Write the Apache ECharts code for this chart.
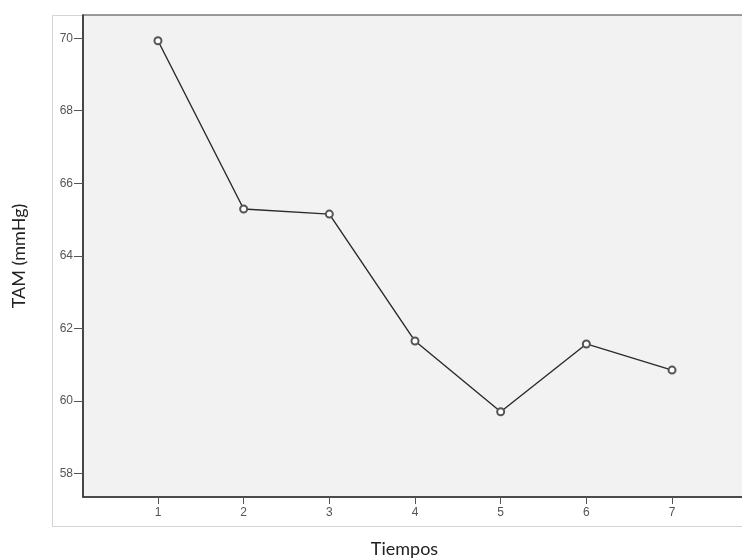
<!DOCTYPE html>
<html>
<head>
<meta charset="utf-8">
<script src="https://cdn.jsdelivr.net/npm/echarts@6/dist/echarts.min.js"></script>
<style>html,body{margin:0;padding:0;background:#fff}#c{width:742px;height:559px}</style>
</head>
<body>
<div id="c"></div>
<script>
var tiempos = [1, 2, 3, 4, 5, 6, 7];
var tam = [69.93, 65.29, 65.15, 61.65, 59.70, 61.57, 60.85];
var yTicks = [58, 60, 62, 64, 66, 68, 70];
var xTicks = [1, 2, 3, 4, 5, 6, 7];

var chart = echarts.init(document.getElementById('c'), null, {renderer: 'canvas'});
chart.setOption({
  animation: false,
  graphic: [{
    type: 'rect', z: -10, silent: true,
    shape: {x: 52.5, y: 15.5, width: 720, height: 511},
    style: {fill: 'none', stroke: '#d4d4d4', lineWidth: 1}
  }],
  grid: {left: 83, top: 15, right: -2, bottom: 62, show: true, outerBoundsMode: 'none', containLabel: false,
         backgroundColor: '#f2f2f2', borderColor: '#3a3a3a', borderWidth: 1.2},
  xAxis: {
    type: 'value', min: 0.125, max: 7.84,
    name: 'Tiempos', nameLocation: 'middle', nameGap: 43,
    nameTextStyle: {fontFamily: 'Lato', fontSize: 18, color: '#222', padding: [0, 18, 0, 0]},
    axisLine: {show: true, lineStyle: {color: '#333', width: 1.5}},
    axisTick: {show: true, customValues: xTicks, length: 7, lineStyle: {color: '#555'}},
    axisLabel: {customValues: xTicks, fontFamily: 'Arial', fontSize: 12, color: '#555', margin: 10},
    splitLine: {show: false}
  },
  yAxis: {
    type: 'value', min: 57.35, max: 70.64,
    name: 'TAM (mmHg)', nameLocation: 'middle', nameGap: 55,
    nameTextStyle: {fontFamily: 'Lato', fontSize: 18, color: '#222'},
    axisLine: {show: true, lineStyle: {color: '#333', width: 1.5}},
    axisTick: {show: true, customValues: yTicks, length: 9, lineStyle: {color: '#555'}},
    axisLabel: {customValues: yTicks, fontFamily: 'Arial', fontSize: 12, color: '#555', margin: 10},
    splitLine: {show: false}
  },
  series: [{
    type: 'line',
    data: tiempos.map(function (t, i) { return [t, tam[i]]; }),
    symbol: 'emptyCircle', symbolSize: 7,
    lineStyle: {color: '#2a2a2a', width: 1.4},
    itemStyle: {color: '#555', borderColor: '#555', borderWidth: 1}
  }]
});
</script>
</body>
</html>
